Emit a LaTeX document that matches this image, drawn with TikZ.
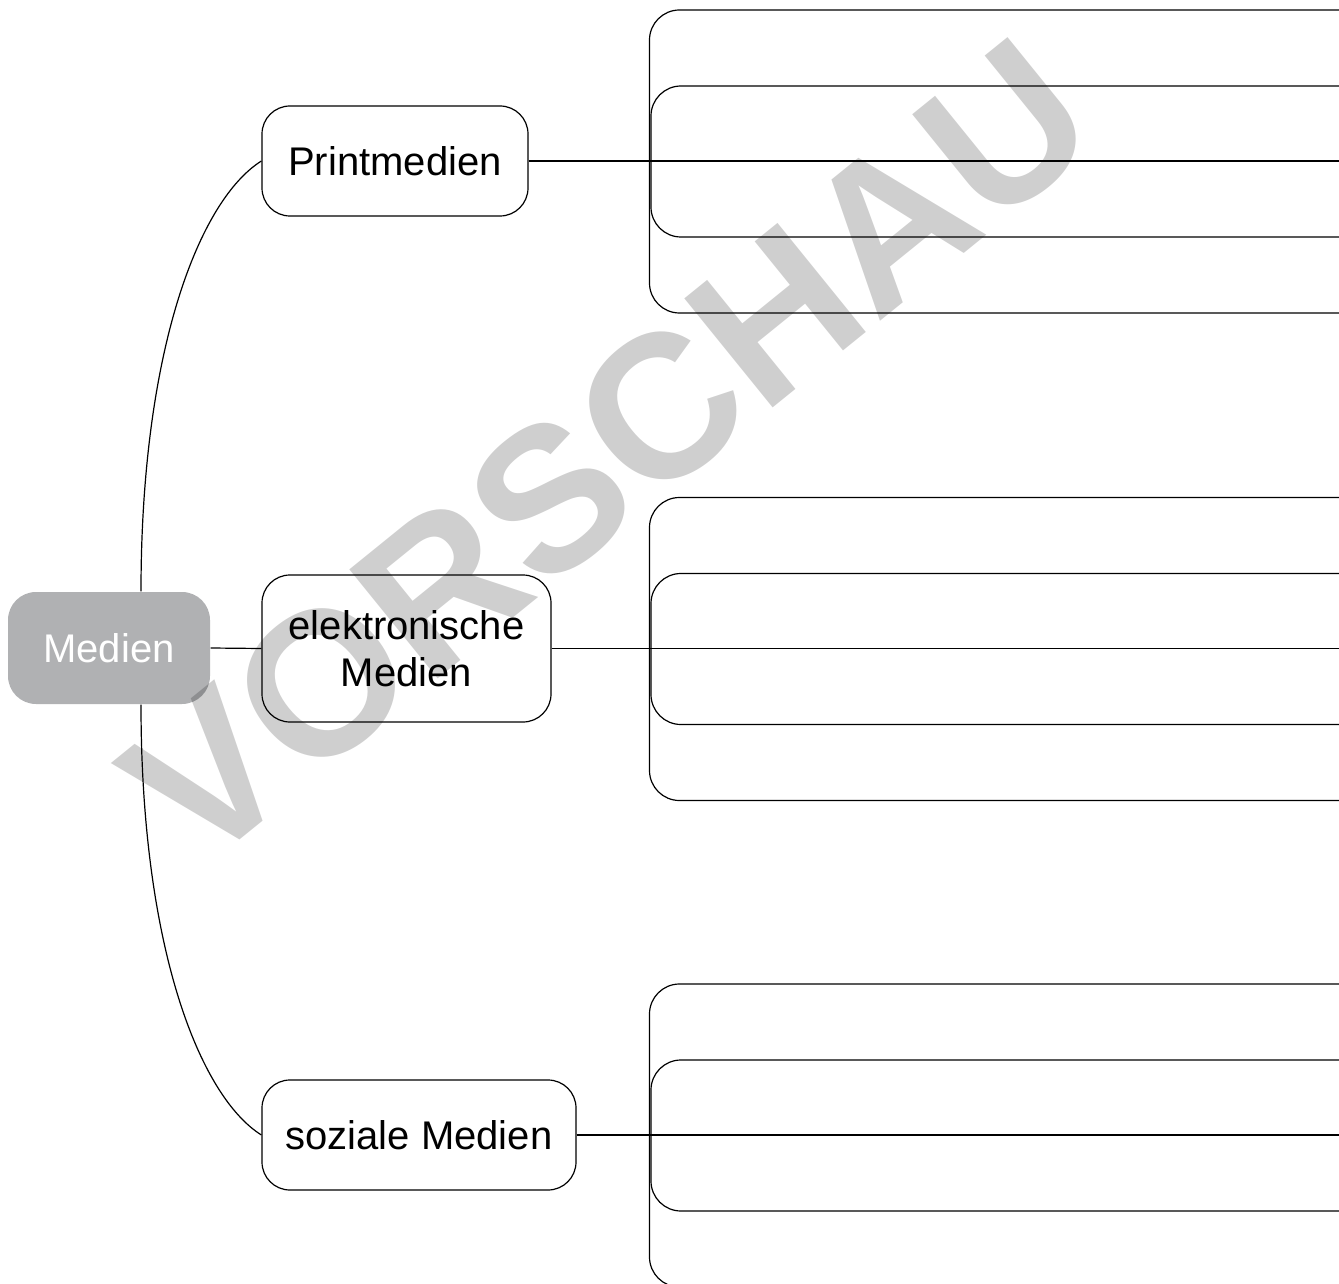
\documentclass[tikz,border=0pt]{standalone}
\usepackage{fontspec}
\setmainfont{Liberation Sans}
\usetikzlibrary{calc}

\definecolor{mediengrau}{RGB}{176,177,179}
\definecolor{wasserzeichen}{RGB}{207,207,207}

\begin{document}
\begin{tikzpicture}[x=1pt,y=-1pt,line width=1.2pt,
    kat/.style={draw,rounded corners=28pt,inner sep=0pt,align=center,font=\fontsize{40}{47}\selectfont},
    haupt/.style={fill=mediengrau,text=white,rounded corners=28pt,inner sep=0pt,font=\fontsize{40}{47}\selectfont},
    zeile/.style={rounded corners=30pt}]
    \useasboundingbox (0,0) rectangle (1339,1284);

    \node[haupt,minimum width=202pt,minimum height=112pt] (medien) at (109,648) {Medien};
    \node[kat,minimum width=266pt,minimum height=110pt] (print) at (395,161) {Printmedien};
    \node[kat,minimum width=289pt,minimum height=147pt] (elektro) at (406.5,648.5) {elektronische\\Medien};
    \node[kat,minimum width=314pt,minimum height=110pt] (sozial) at (419,1135) {soziale Medien};

    \coordinate (oben) at ([xshift=32pt]medien.north);
    \coordinate (unten) at ([xshift=32pt]medien.south);
    \draw (oben) .. controls +(0,-242) and +(-62,39) .. (print.west);
    \draw (unten) .. controls +(0,242) and +(-62,-39) .. (sozial.west);
    \draw (medien.east) -- (elektro.west);

    % Schreiblinien
    \coordinate (rand) at (1339,0);
    \coordinate (links) at (649.5,0);
    \foreach \n in {print,elektro,sozial}{
        \draw (\n.east) -- (\n.east -| rand);
        \coordinate (m) at (\n.east -| links);
        \draw[zeile] (m) ++(689.5,-151) -- ++(-689.5,0) -- ++(0,303) -- ++(689.5,0);
        \draw[zeile] (m) ++(689.5,-75) -- ++(-688,0) -- ++(0,151) -- ++(688,0);
    }

    \begin{scope}[blend mode=multiply]
        \node[text=wasserzeichen,font=\bfseries\fontsize{204}{204}\selectfont,rotate=39,anchor=base,inner sep=0pt] (vorschau) at (652,506) {VORSCHAU};
    \end{scope}
\end{tikzpicture}
\end{document}
